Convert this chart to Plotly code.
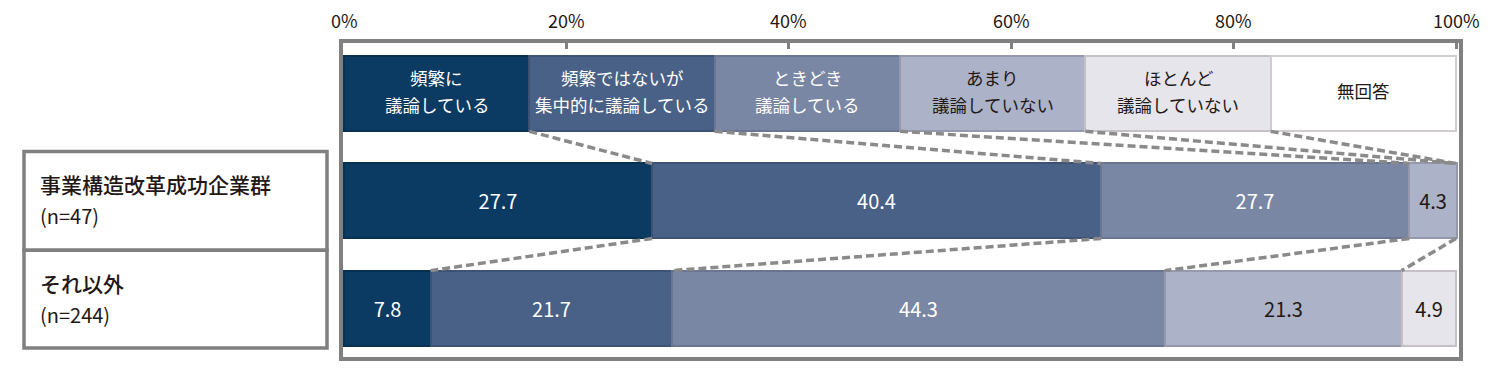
import plotly.graph_objects as go

# ---------------- data ----------------
categories = ["頻繁に<br>議論している", "頻繁ではないが<br>集中的に議論している", "ときどき<br>議論している",
              "あまり<br>議論していない", "ほとんど<br>議論していない", "無回答"]
groups = ["事業構造改革成功企業群", "それ以外"]
group_n = ["(n=47)", "(n=244)"]
success_vals = [27.7, 40.4, 27.7, 4.3, 0.0, 0.0]
other_vals = [7.8, 21.7, 44.3, 21.3, 4.9, 0.0]
tick_vals = [0, 20, 40, 60, 80, 100]
tick_text = ["0%", "20%", "40%", "60%", "80%", "100%"]

# ---------------- styles ----------------
fill_colors = ["#0b3a63", "#4a6187", "#7a87a4", "#acb2c7", "#e5e5eb", "#ffffff"]
edge_colors = ["#083050", "#3e5274", "#6a7591", "#9699ae", "#c4c0c6", "#d2cccc"]
text_colors = ["#ffffff", "#ffffff", "#ffffff", "#231815", "#231815", "#231815"]
DARK = "#231815"
GRAY = "#808080"
FONT = "Noto Sans CJK JP"

W, H = 1498, 372
L, R, T, B = 343, 1459, 43, 361          # bordered plot box (pixels)
X0PX, X100PX = 344, 1456                  # 0% and 100% pixel positions
ROW0PX, ROWSTEP = 94.5, 108.5             # pixel center of first row, row step
BARW = 0.70                               # bar thickness in row units

s = (X100PX - X0PX) / 100.0
xr = [(L - X0PX) / s, (R - X0PX) / s]
yr = [(B - ROW0PX) / ROWSTEP, (T - ROW0PX) / ROWSTEP]

rows = [0, 1, 2]
n = len(categories)
legend_w = [100.0 / n] * n

fig = go.Figure()
for i in range(n):
    xs = [legend_w[i],
          success_vals[i] if success_vals[i] > 0 else None,
          other_vals[i] if other_vals[i] > 0 else None]
    txt = ["",
           f"{success_vals[i]:.1f}" if success_vals[i] > 0 else "",
           f"{other_vals[i]:.1f}" if other_vals[i] > 0 else ""]
    fig.add_trace(go.Bar(
        y=rows, x=xs, orientation="h", width=BARW,
        marker=dict(color=fill_colors[i], line=dict(color=edge_colors[i], width=2)),
        text=txt, textposition="inside", insidetextanchor="middle", textangle=0,
        textfont=dict(family=FONT, size=20, color=text_colors[i]),
        hoverinfo="skip", showlegend=False,
    ))


def cum(vals):
    out, c = [], 0.0
    for v in vals:
        c += v
        out.append(min(c, 100.0))
    return out


def px(xp):
    return (xp - L) / (R - L)


def py(yp):
    return (B - yp) / (B - T)


annots = []

# top tick labels
for tv, tt in zip(tick_vals, tick_text):
    annots.append(dict(x=tv, xref="x", y=py(20), yref="paper", text=tt, showarrow=False,
                       xanchor="center", yanchor="middle",
                       font=dict(family=FONT, size=18, color=DARK)))

# legend row labels (two lines each, centred on each legend segment)
leg_cum = cum(legend_w)
LINE_OFF = 14.0 / ROWSTEP
SHIFT = -3.0 / ROWSTEP
for i in range(n):
    cx = leg_cum[i] - legend_w[i] / 2
    lines = categories[i].split("<br>")
    offs = [0.0] if len(lines) == 1 else [-LINE_OFF, LINE_OFF]
    for ln, off in zip(lines, offs):
        annots.append(dict(x=cx, y=rows[0] + off + SHIFT, xref="x", yref="y", text=ln, showarrow=False,
                           xanchor="center", yanchor="middle",
                           font=dict(family=FONT, size=17.5, color=text_colors[i])))

# dashed connector lines between consecutive rows
row_cums = [leg_cum, cum(success_vals), cum(other_vals)]
for r in range(2):
    a, b = row_cums[r], row_cums[r + 1]
    for k in range(n - 1):
        if a[k] >= 100 and b[k] >= 100:
            continue
        fig.add_trace(go.Scatter(
            x=[a[k], b[k]], y=[rows[r] + BARW / 2, rows[r + 1] - BARW / 2],
            mode="lines", line=dict(color="#8a8a8a", width=3.5, dash="8px,4px"),
            hoverinfo="skip", showlegend=False,
        ))

# left label boxes
box_x = (24, 327)
box_y = [(153, 253), (253, 352)]
shapes = []
for gi, (yt, yb) in enumerate(box_y):
    shapes.append(dict(type="rect", xref="paper", yref="paper",
                       x0=px(box_x[0]), x1=px(box_x[1]), y0=py(yb), y1=py(yt),
                       line=dict(color=GRAY, width=3.5), fillcolor="rgba(0,0,0,0)", layer="above"))
    annots.append(dict(xref="paper", yref="paper", x=px(38), y=py(yt + 33),
                       text=groups[gi], showarrow=False, xanchor="left", yanchor="middle",
                       font=dict(family=FONT, size=21, color=DARK, weight=500)))
    annots.append(dict(xref="paper", yref="paper", x=px(38), y=py(yt + 65),
                       text=group_n[gi], showarrow=False, xanchor="left", yanchor="middle",
                       font=dict(family=FONT, size=20, color=DARK)))

fig.update_layout(
    width=W, height=H, autosize=False,
    margin=dict(l=L, r=W - R, t=T, b=H - B, pad=0),
    barmode="stack", bargap=0,
    paper_bgcolor="white", plot_bgcolor="white",
    xaxis=dict(range=xr, side="top", showline=True, mirror=True, linecolor=GRAY, linewidth=3.5,
               ticks="inside", ticklen=6, tickwidth=2.5, tickcolor=GRAY,
               tickvals=tick_vals, showticklabels=False,
               showgrid=False, zeroline=False, fixedrange=True),
    yaxis=dict(range=yr, showline=True, mirror=True, linecolor=GRAY, linewidth=3.5,
               showticklabels=False, ticks="", showgrid=False, zeroline=False, fixedrange=True),
    shapes=shapes, annotations=annots,
    font=dict(family=FONT, color=DARK),
)

fig.write_html("out.html", config={"displayModeBar": False})

# remove the browser's default page margin so the figure sits at (0, 0)
with open("out.html", "r", encoding="utf-8") as f:
    html = f.read()
html = html.replace("<body>", '<body style="margin:0;padding:0;overflow:hidden">', 1)
with open("out.html", "w", encoding="utf-8") as f:
    f.write(html)
